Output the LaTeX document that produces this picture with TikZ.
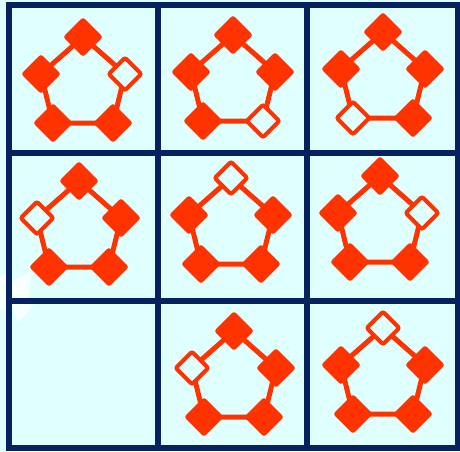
\documentclass[tikz,border=0pt]{standalone}
\usetikzlibrary{calc}
\definecolor{bgc}{HTML}{E0FFFF}
\definecolor{navy}{HTML}{05215F}
\definecolor{orng}{HTML}{FF3300}
\pgfdeclarelayer{back}
\pgfdeclarelayer{edges}
\pgfsetlayers{back,edges,main}
\begin{document}
\begin{tikzpicture}[x=1pt,y=-1pt,
  fullnode/.style={shape=rectangle,rotate=45,minimum size=28pt,inner sep=0pt,outer sep=0pt,fill=orng,rounded corners=2.5pt},
  emptynode/.style={shape=rectangle,rotate=45,minimum size=23pt,inner sep=0pt,outer sep=0pt,fill=bgc,draw=orng,line width=4pt,rounded corners=2pt},
  ring/.style={draw=orng,line width=5pt,line join=round},
  gridline/.style={draw=navy,line width=6pt}]
\useasboundingbox (0,0) rectangle (460,451);
\begin{pgfonlayer}{back}
  \fill[bgc] (0,0) rectangle (460,451);
  % faint white patches at the left edge
  \fill[white,opacity=0.8] (0,276) -- (6,273) -- (6,312) -- (0,308) -- cycle;
  \fill[white,opacity=0.8] (11,281) -- (31,272) -- (29,297) -- (11,297) -- cycle;
  \fill[white,opacity=0.8] (12,304) -- (34,304) -- (18,323) -- cycle;
  \coordinate (g00) at (8.5,4.5);
  \coordinate (g11) at (457.5,448);
  \draw[gridline] (g00) rectangle (g11);
  \draw[gridline] (157.5,4.5) -- (157.5,448);
  \draw[gridline] (306.5,4.5) -- (306.5,448);
  \draw[gridline] (8.5,152.5) -- (457.5,152.5);
  \draw[gridline] (8.5,300.5) -- (457.5,300.5);
\end{pgfonlayer}
\foreach \n/\x/\y/\h in {a/83/37/R, b/233/35/BR, c/383/32/BL, d/79/181/L, e/231/178/T, f/380/176/R, g/234/331/L, h/383/328/T}{
  \foreach \v/\dx/\dy in {T/0/0, R/42/37, BR/30/86, BL/-30/86, L/-42/37}{
    \ifx\v\h\def\st{emptynode}\else\def\st{fullnode}\fi
    \node[\st] (\n\v) at ({\x+\dx},{\y+\dy}) {};
  }
  \begin{pgfonlayer}{edges}
    \draw[ring] (\n T.center) -- (\n R.center) -- (\n BR.center) -- (\n BL.center) -- (\n L.center) -- cycle;
  \end{pgfonlayer}
}
\end{tikzpicture}
\end{document}
